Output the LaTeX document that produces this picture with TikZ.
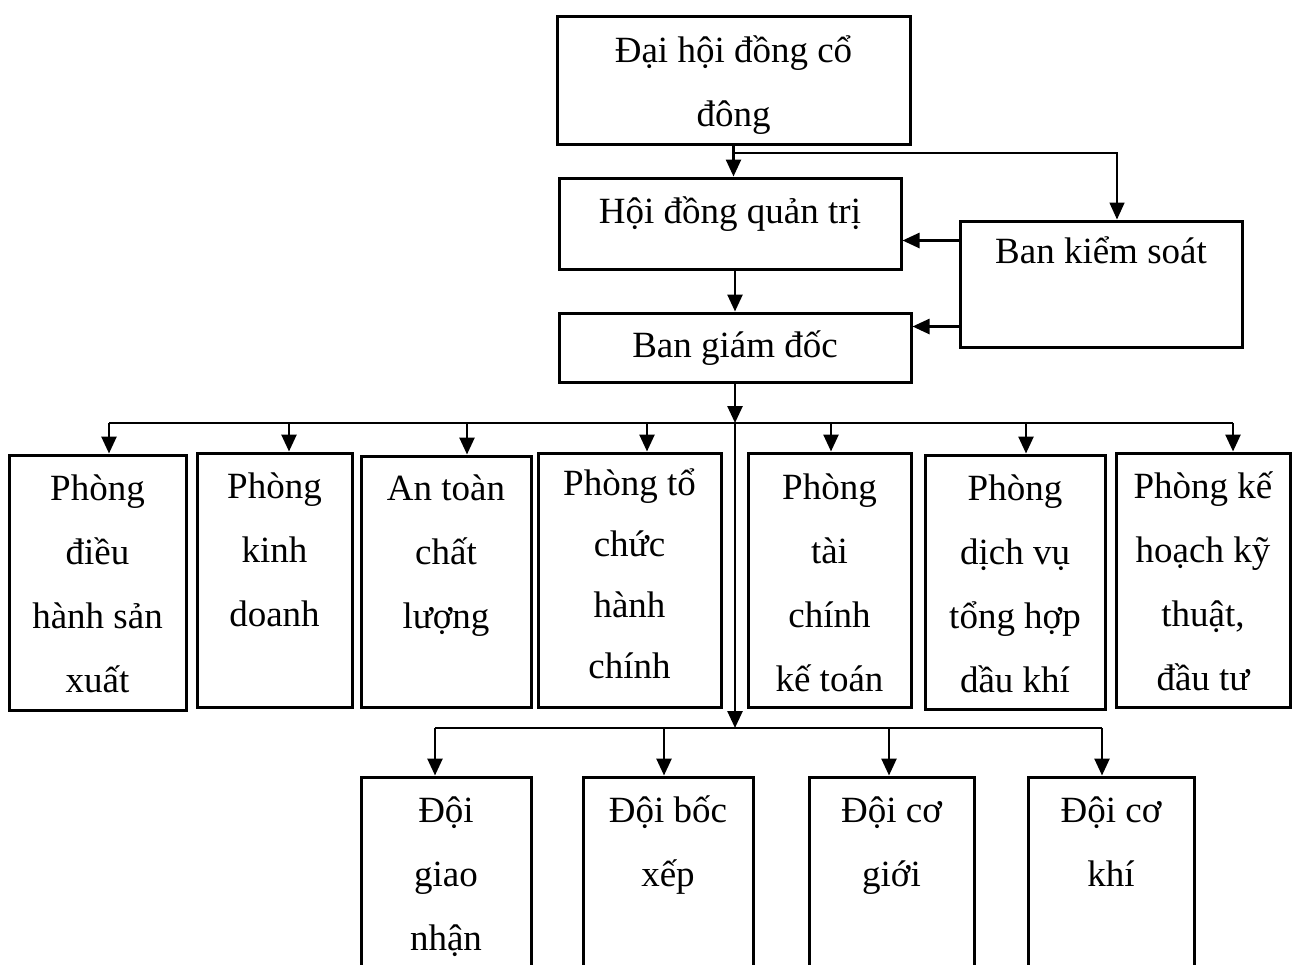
\documentclass[tikz,border=0pt]{standalone}
\usepackage{fontspec}
\setmainfont{Liberation Serif}
\usetikzlibrary{arrows.meta,calc}
\newcommand\firstln{\rule{0pt}{40pt}}
\begin{document}
\begin{tikzpicture}[x=1pt,y=-1pt,
  box/.style={draw, line width=3pt, rectangle, inner sep=0pt},
  lbl/.style={font=\fontsize{37}{64}\selectfont, align=center, inner sep=0pt, anchor=north},
  arr/.style={line width=2.6pt, -{Triangle[length=17pt,width=15pt]}},
  thinarr/.style={line width=1.6pt, -{Triangle[length=17pt,width=15pt]}},
  thinln/.style={line width=1.6pt}]
\useasboundingbox (0,0) rectangle (1292,964);
\fill[white] (0,0) rectangle (1292,964);
\clip (0,0) rectangle (1292,964);
% top boxes
\node[box, minimum width=353pt, minimum height=128pt] (A) at (733.5,80) {};
\node[box, minimum width=342pt, minimum height=91pt] (B) at (730,223.5) {};
\node[box, minimum width=352pt, minimum height=69pt] (C) at (735,347.5) {};
\node[box, minimum width=282pt, minimum height=126pt] (K) at (1101,284) {};
% departments
\node[box, minimum width=177pt, minimum height=255pt] (b1) at (97.5,582.5) {};
\node[box, minimum width=155pt, minimum height=254pt] (b2) at (274.5,580) {};
\node[box, minimum width=170pt, minimum height=251pt] (b3) at (446,581.5) {};
\node[box, minimum width=183pt, minimum height=254pt] (b4) at (629.5,580) {};
\node[box, minimum width=163pt, minimum height=254pt] (b5) at (829.5,580) {};
\node[box, minimum width=180pt, minimum height=254pt] (b6) at (1015,582) {};
\node[box, minimum width=174pt, minimum height=254pt] (b7) at (1203,580) {};
% teams (cut by the page edge)
\node[box, minimum width=170pt, minimum height=240pt] (d1) at (446,897) {};
\node[box, minimum width=170pt, minimum height=240pt] (d2) at (668,897) {};
\node[box, minimum width=165pt, minimum height=240pt] (d3) at (891.5,897) {};
\node[box, minimum width=166pt, minimum height=240pt] (d4) at (1111,897) {};
% labels
\node[lbl] (tA) at (733.5,22) {\firstln Đại hội đồng cổ\\ đông};
\node[lbl] (tB) at (730,183) {\firstln Hội đồng quản trị};
\node[lbl] (tK) at (1101,223) {\firstln Ban kiểm soát};
\node[lbl] (tC) at (735,317) {\firstln Ban giám đốc};
\node[lbl] (t1) at (97.5,460) {\firstln Phòng\\ điều\\ hành sản\\ xuất};
\node[lbl] (t2) at (274.5,458) {\firstln Phòng\\ kinh\\ doanh};
\node[lbl] (t3) at (446,460) {\firstln An toàn\\ chất\\ lượng};
\node[lbl, font=\fontsize{37}{61}\selectfont] (t4) at (629.5,455) {\firstln Phòng tổ\\ chức\\ hành\\ chính};
\node[lbl] (t5) at (829.5,459) {\firstln Phòng\\ tài\\ chính\\ kế toán};
\node[lbl] (t6) at (1015,460) {\firstln Phòng\\ dịch vụ\\ tổng hợp\\ dầu khí};
\node[lbl] (t7) at (1203,458) {\firstln Phòng kế\\ hoạch kỹ\\ thuật,\\ đầu tư};
\node[lbl] (u1) at (446,782) {\firstln Đội\\ giao\\ nhận};
\node[lbl] (u2) at (668,782) {\firstln Đội bốc\\ xếp};
\node[lbl] (u3) at (891.5,782) {\firstln Đội cơ\\ giới};
\node[lbl] (u4) at (1111,782) {\firstln Đội cơ\\ khí};
% connectors
\coordinate (j1) at (733.5,153);
\draw[arr] (A.south) -- (A.south |- B.north);
\draw[thinarr] (j1) -| ([xshift=16pt]K.north);
\draw[arr] ([yshift=-21pt]K.north west) -- ([yshift=-21pt]K.north west -| B.east);
\draw[arr] ([yshift=-107pt]K.north west) -- ([yshift=-107pt]K.north west -| C.east);
\draw[arr] (C.north |- B.south) -- (C.north);
\coordinate (bus) at (735,423);
\draw[arr] (C.south) -- (bus);
\draw[thinln] ([xshift=11.5pt]b1.north |- bus) -- ([xshift=30pt]b7.north |- bus);
\foreach \n/\dx in {b1/11.5, b2/14.5, b3/21, b4/17.5, b5/1.5, b6/11, b7/30}
  \draw[arr] ([xshift=\dx pt]\n.north |- bus) -- ([xshift=\dx pt]\n.north);
\coordinate (bus2) at (735,728);
\draw[arr] (bus) -- (bus2);
\draw[thinln] ([xshift=-11pt]d1.north |- bus2) -- ([xshift=-9pt]d4.north |- bus2);
\foreach \n/\dx in {d1/-11, d2/-4, d3/-2.5, d4/-9}
  \draw[arr] ([xshift=\dx pt]\n.north |- bus2) -- ([xshift=\dx pt]\n.north);
\end{tikzpicture}
\end{document}
